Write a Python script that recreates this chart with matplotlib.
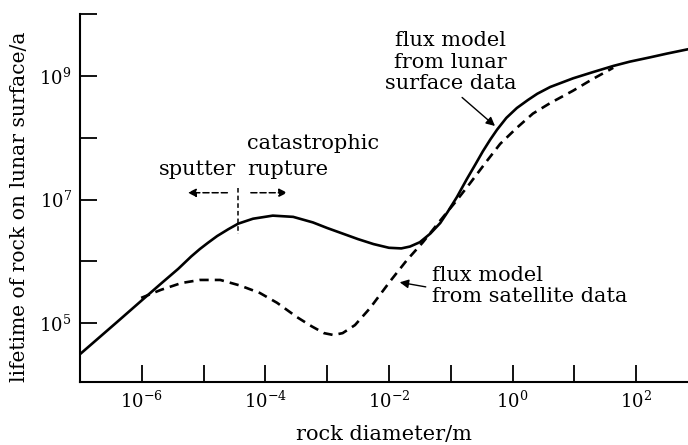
import matplotlib
matplotlib.use("Agg")
import matplotlib.pyplot as plt
import numpy as np

# ---- data (log10 values) ----
lunar_logd = [-7.0, -6.7, -6.4, -6.0, -5.69, -5.41, -5.2, -5.06, -4.93, -4.78, -4.6, -4.44,
              -4.2, -3.88, -3.55, -3.23, -3.0, -2.75, -2.5, -2.25, -2.0, -1.8, -1.66, -1.5,
              -1.33, -1.17, -1.05, -0.90, -0.74, -0.60, -0.48, -0.36, -0.25, -0.10, 0.07,
              0.25, 0.40, 0.61, 0.98, 1.30, 1.63, 1.90, 2.23, 2.50, 2.84]
lunar_logt = [4.50, 4.76, 5.02, 5.37, 5.64, 5.88, 6.08, 6.20, 6.30, 6.41, 6.52, 6.61,
              6.69, 6.74, 6.72, 6.63, 6.54, 6.45, 6.36, 6.28, 6.22, 6.21, 6.24, 6.31,
              6.45, 6.62, 6.80, 7.04, 7.33, 7.57, 7.78, 7.97, 8.13, 8.32, 8.48,
              8.61, 8.71, 8.82, 8.96, 9.06, 9.16, 9.23, 9.30, 9.36, 9.43]

sat_logd = [-6.01, -5.69, -5.36, -5.06, -4.73, -4.41, -4.09, -3.81, -3.49, -3.25, -3.05,
            -2.90, -2.75, -2.55, -2.31, -1.98, -1.71, -1.45, -1.17, -0.90, -0.69, -0.41,
            -0.20, 0.07, 0.33, 0.61, 0.98, 1.30, 1.63]
sat_logt = [5.41, 5.54, 5.65, 5.70, 5.70, 5.61, 5.49, 5.33, 5.10, 4.95, 4.84,
            4.81, 4.84, 4.97, 5.24, 5.68, 6.02, 6.31, 6.66, 6.99, 7.26, 7.63,
            7.90, 8.16, 8.39, 8.56, 8.76, 8.95, 9.13]

xtick_exp = [-6, -5, -4, -3, -2, -1, 0, 1, 2]
xtick_labels = [r'$10^{-6}$', '', r'$10^{-4}$', '', r'$10^{-2}$', '', r'$10^{0}$', '', r'$10^{2}$']
ytick_exp = [5, 6, 7, 8, 9, 10]
ytick_labels = [r'$10^{5}$', '', r'$10^{7}$', '', r'$10^{9}$', '']

plt.rcParams['font.family'] = ['DejaVu Serif']
plt.rcParams['mathtext.fontset'] = 'dejavuserif'

fig = plt.figure(figsize=(6.88, 4.45), dpi=100)
ax = fig.add_axes([80/688, 1-382/445, 608/688, 368/445])

lunar_d = 10.0 ** np.array(lunar_logd)
lunar_t = 10.0 ** np.array(lunar_logt)
sat_d = 10.0 ** np.array(sat_logd)
sat_t = 10.0 ** np.array(sat_logt)

ax.plot(lunar_d, lunar_t, color='black', lw=1.9, solid_joinstyle='round')
ax.plot(sat_d, sat_t, color='black', lw=1.9, dashes=(3.5, 2.3))

ax.set_xscale('log')
ax.set_yscale('log')
ax.set_xlim(10**-7.0, 10**2.84)
ax.set_ylim(10**4.05, 10**10)

ax.set_xticks([10.0**e for e in xtick_exp])
ax.set_xticklabels(xtick_labels)
ax.set_yticks([10.0**e for e in ytick_exp])
ax.set_yticklabels(ytick_labels)
ax.minorticks_off()
ax.tick_params(direction='in', length=12, width=1.3, labelsize=13, pad=6, color='black')

for s in ['top', 'right']:
    ax.spines[s].set_visible(False)
for s in ['left', 'bottom']:
    ax.spines[s].set_linewidth(1.5)

ax.set_xlabel('rock diameter/m', fontsize=15, labelpad=10)
ax.set_ylabel('lifetime of rock on lunar surface/a', fontsize=14.6)
ax.yaxis.set_label_coords(-0.084, 0.4755)

fs = 15
ax.text(10**-1.0, 10**9.22, 'flux model\nfrom lunar\nsurface data', ha='center', va='center',
        fontsize=fs, linespacing=1.17)
ax.annotate('', xy=(10**-0.25, 10**8.16), xytext=(10**-0.85, 10**8.68),
            arrowprops=dict(arrowstyle='-|>', color='black', lw=1.0, mutation_scale=13))

ax.text(10**-1.30, 10**5.60, 'flux model\nfrom satellite data', ha='left', va='center',
        fontsize=fs, linespacing=1.12)
ax.annotate('', xy=(10**-1.87, 10**5.67), xytext=(10**-1.36, 10**5.58),
            arrowprops=dict(arrowstyle='-|>', color='black', lw=1.0, mutation_scale=13))

ax.text(10**-4.30, 10**7.90, 'catastrophic', ha='left', va='center', fontsize=fs)
ax.text(10**-4.48, 10**7.48, 'sputter', ha='right', va='center', fontsize=fs)
ax.text(10**-4.30, 10**7.48, 'rupture', ha='left', va='center', fontsize=fs)

ax.annotate('', xy=(10**-5.30, 10**7.11), xytext=(10**-4.57, 10**7.11),
            arrowprops=dict(arrowstyle='-|>', color='black', lw=1.1, linestyle=(0, (4, 2)),
                            mutation_scale=12))
ax.annotate('', xy=(10**-3.60, 10**7.11), xytext=(10**-4.28, 10**7.11),
            arrowprops=dict(arrowstyle='-|>', color='black', lw=1.1, linestyle=(0, (4, 2)),
                            mutation_scale=12))
ax.plot([10**-4.44, 10**-4.44], [10**7.18, 10**6.45], color='black', lw=1.1, dashes=(3, 2))

fig.savefig('out.png', dpi=100)
